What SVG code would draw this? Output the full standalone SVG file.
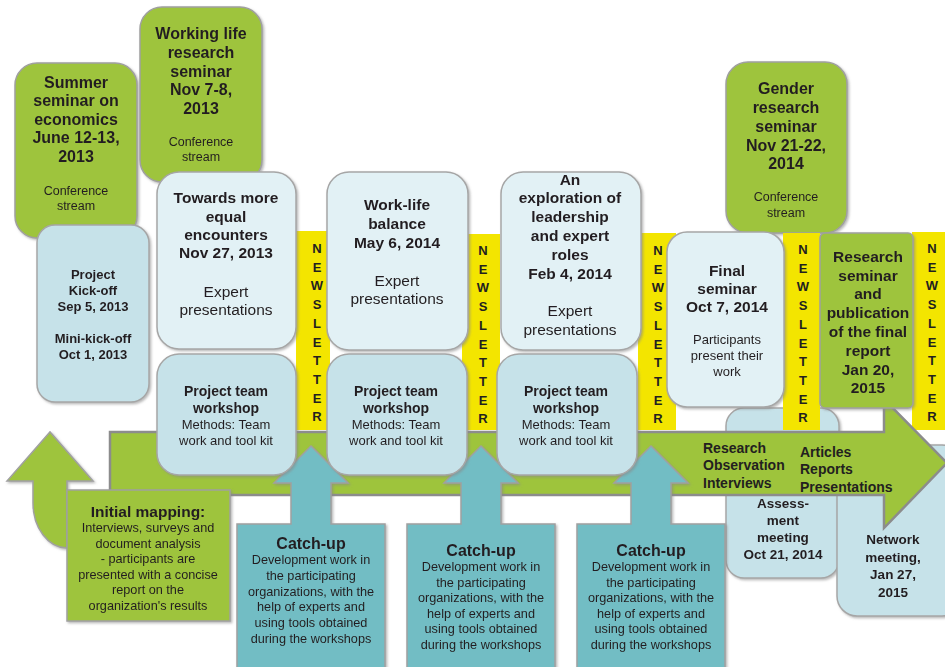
<svg xmlns="http://www.w3.org/2000/svg" width="945" height="667" viewBox="0 0 945 667">
<defs>
<style>
text{font-family:"Liberation Sans",Arial,sans-serif;fill:#231f20;text-anchor:middle}
.b{font-weight:bold}
.t16{font-size:16px}
.t155{font-size:15.5px}
.t14{font-size:14px}
.t135{font-size:13.5px}
.t13{font-size:13px}
.t127{font-size:12.7px}
.t125{font-size:12.5px}
.nl{font-size:13px;font-weight:bold}
.green{fill:#9ec43c;stroke:#a0a0a0;stroke-width:1.5}
.pale{fill:#e2f1f5;stroke:#a6a6a6;stroke-width:1.5}
.blue{fill:#c6e2e9;stroke:#a6a6a6;stroke-width:1.5}
.teal{fill:#72bdc4;stroke:#a0a0a0;stroke-width:1.5}
.yel{fill:#f3e500}
.bigarrow{fill:#9ec43c;stroke:#8c8c8c;stroke-width:2.5}
.left{text-anchor:start}
</style>
<filter id="sh" x="-10%" y="-10%" width="125%" height="125%">
<feDropShadow dx="1.5" dy="1.5" stdDeviation="1" flood-color="#888" flood-opacity="0.6"/>
</filter>
</defs>

<!-- conference stream boxes -->
<g id="summer-seminar" filter="url(#sh)">
<rect class="green" x="15" y="63" width="122" height="175" rx="22"/>
<text class="b t16"><tspan x="76" y="88">Summer</tspan><tspan x="76" y="106">seminar on</tspan><tspan x="76" y="125">economics</tspan><tspan x="76" y="143">June 12-13,</tspan><tspan x="76" y="162">2013</tspan></text>
<text class="t125"><tspan x="76" y="195">Conference</tspan><tspan x="76" y="210">stream</tspan></text>
</g>
<g id="working-life-seminar" filter="url(#sh)">
<rect class="green" x="140" y="7" width="122" height="175" rx="22"/>
<text class="b t16"><tspan x="201" y="39">Working life</tspan><tspan x="201" y="58">research</tspan><tspan x="201" y="77">seminar</tspan><tspan x="201" y="95">Nov 7-8,</tspan><tspan x="201" y="114">2013</tspan></text>
<text class="t125"><tspan x="201" y="146">Conference</tspan><tspan x="201" y="161">stream</tspan></text>
</g>
<g id="gender-seminar" filter="url(#sh)">
<rect class="green" x="726" y="62" width="121" height="171" rx="22"/>
<text class="b t16"><tspan x="786" y="94">Gender</tspan><tspan x="786" y="113">research</tspan><tspan x="786" y="132">seminar</tspan><tspan x="786" y="151">Nov 21-22,</tspan><tspan x="786" y="169">2014</tspan></text>
<text class="t125"><tspan x="786" y="201">Conference</tspan><tspan x="786" y="217">stream</tspan></text>
</g>

<!-- boxes behind the main arrow -->
<g id="assessment-meeting" filter="url(#sh)">
<rect class="blue" x="726" y="408" width="113" height="170" rx="18"/>
<text class="b t135"><tspan x="783" y="508">Assess-</tspan><tspan x="783" y="525">ment</tspan><tspan x="783" y="542">meeting</tspan><tspan x="783" y="559">Oct 21, 2014</tspan></text>
</g>
<g id="network-meeting" filter="url(#sh)">
<rect class="blue" x="837" y="445" width="125" height="171" rx="20"/>
<text class="b t135"><tspan x="893" y="544">Network</tspan><tspan x="893" y="562">meeting,</tspan><tspan x="893" y="579">Jan 27,</tspan><tspan x="893" y="597">2015</tspan></text>
</g>

<!-- newsletters -->
<g id="newsletter-1">
<rect class="yel" x="296" y="231" width="34" height="199"/>
<text class="nl"><tspan x="317" y="253">N</tspan><tspan x="317" dy="18.7">E</tspan><tspan x="317" dy="18.7">W</tspan><tspan x="317" dy="18.7">S</tspan><tspan x="317" dy="18.7">L</tspan><tspan x="317" dy="18.7">E</tspan><tspan x="317" dy="18.7">T</tspan><tspan x="317" dy="18.7">T</tspan><tspan x="317" dy="18.7">E</tspan><tspan x="317" dy="18.7">R</tspan></text>
</g>
<g id="newsletter-2">
<rect class="yel" x="462" y="234" width="38" height="196"/>
<text class="nl"><tspan x="483" y="255">N</tspan><tspan x="483" dy="18.7">E</tspan><tspan x="483" dy="18.7">W</tspan><tspan x="483" dy="18.7">S</tspan><tspan x="483" dy="18.7">L</tspan><tspan x="483" dy="18.7">E</tspan><tspan x="483" dy="18.7">T</tspan><tspan x="483" dy="18.7">T</tspan><tspan x="483" dy="18.7">E</tspan><tspan x="483" dy="18.7">R</tspan></text>
</g>
<g id="newsletter-3">
<rect class="yel" x="638" y="233" width="38" height="197"/>
<text class="nl"><tspan x="658" y="255">N</tspan><tspan x="658" dy="18.7">E</tspan><tspan x="658" dy="18.7">W</tspan><tspan x="658" dy="18.7">S</tspan><tspan x="658" dy="18.7">L</tspan><tspan x="658" dy="18.7">E</tspan><tspan x="658" dy="18.7">T</tspan><tspan x="658" dy="18.7">T</tspan><tspan x="658" dy="18.7">E</tspan><tspan x="658" dy="18.7">R</tspan></text>
</g>
<g id="newsletter-4">
<rect class="yel" x="783" y="233" width="37" height="197"/>
<text class="nl"><tspan x="803" y="254">N</tspan><tspan x="803" dy="18.7">E</tspan><tspan x="803" dy="18.7">W</tspan><tspan x="803" dy="18.7">S</tspan><tspan x="803" dy="18.7">L</tspan><tspan x="803" dy="18.7">E</tspan><tspan x="803" dy="18.7">T</tspan><tspan x="803" dy="18.7">T</tspan><tspan x="803" dy="18.7">E</tspan><tspan x="803" dy="18.7">R</tspan></text>
</g>
<g id="newsletter-5">
<rect class="yel" x="912" y="232" width="40" height="198"/>
<text class="nl"><tspan x="932" y="253">N</tspan><tspan x="932" dy="18.7">E</tspan><tspan x="932" dy="18.7">W</tspan><tspan x="932" dy="18.7">S</tspan><tspan x="932" dy="18.7">L</tspan><tspan x="932" dy="18.7">E</tspan><tspan x="932" dy="18.7">T</tspan><tspan x="932" dy="18.7">T</tspan><tspan x="932" dy="18.7">E</tspan><tspan x="932" dy="18.7">R</tspan></text>
</g>

<!-- arrows -->
<g id="connectors">
<path id="main-arrow" class="bigarrow" d="M110 432 L884 432 L884 399 L947 463 L884 528 L884 495 L110 495 Z"/>
<path id="start-arrow" class="green" filter="url(#sh)" d="M67 548 A34 45 0 0 1 33 503 L33 481 L7 481 L50 432 L93 481 L67 481 Z"/>
</g>

<g id="main-arrow-labels">
<text class="b t14 left"><tspan x="703" y="453">Research</tspan><tspan x="703" y="470">Observation</tspan><tspan x="703" y="488">Interviews</tspan></text>
<text class="b t14 left"><tspan x="800" y="457">Articles</tspan><tspan x="800" y="474">Reports</tspan><tspan x="800" y="492">Presentations</tspan></text>
</g>

<g id="initial-mapping" filter="url(#sh)">
<rect class="green" x="67" y="490" width="163" height="131"/>
<text class="b t155"><tspan x="148" y="517">Initial mapping:</tspan></text>
<text class="t127"><tspan x="148" y="532">Interviews, surveys and</tspan><tspan x="148" y="548">document analysis</tspan><tspan x="148" y="563">- participants are</tspan><tspan x="148" y="579">presented with a concise</tspan><tspan x="148" y="594">report on the</tspan><tspan x="148" y="610">organization's results</tspan></text>
</g>

<g id="project-kickoff" filter="url(#sh)">
<rect class="blue" x="37" y="225" width="112" height="177" rx="18"/>
<text class="b t13"><tspan x="93" y="279">Project</tspan><tspan x="93" y="295">Kick-off</tspan><tspan x="93" y="311">Sep 5, 2013</tspan><tspan x="93" y="343">Mini-kick-off</tspan><tspan x="93" y="359">Oct 1, 2013</tspan></text>
</g>

<g id="towards-equal" filter="url(#sh)">
<rect class="pale" x="157" y="172" width="139" height="177" rx="22"/>
<text class="b t155"><tspan x="226" y="203">Towards more</tspan><tspan x="226" y="222">equal</tspan><tspan x="226" y="240">encounters</tspan><tspan x="226" y="258">Nov 27, 2013</tspan></text>
<text class="t155"><tspan x="226" y="297">Expert</tspan><tspan x="226" y="315">presentations</tspan></text>
</g>
<g id="work-life" filter="url(#sh)">
<rect class="pale" x="327" y="172" width="141" height="178" rx="22"/>
<text class="b t155"><tspan x="397" y="210">Work-life</tspan><tspan x="397" y="229">balance</tspan><tspan x="397" y="248">May 6, 2014</tspan></text>
<text class="t155"><tspan x="397" y="286">Expert</tspan><tspan x="397" y="304">presentations</tspan></text>
</g>
<g id="leadership" filter="url(#sh)">
<rect class="pale" x="501" y="172" width="140" height="178" rx="22"/>
<text class="b t155"><tspan x="570" y="185">An</tspan><tspan x="570" y="203">exploration of</tspan><tspan x="570" y="222">leadership</tspan><tspan x="570" y="241">and expert</tspan><tspan x="570" y="260">roles</tspan><tspan x="570" y="279">Feb 4, 2014</tspan></text>
<text class="t155"><tspan x="570" y="316">Expert</tspan><tspan x="570" y="335">presentations</tspan></text>
</g>
<g id="final-seminar" filter="url(#sh)">
<rect class="pale" x="667" y="232" width="117" height="175" rx="20"/>
<text class="b t155"><tspan x="727" y="276">Final</tspan><tspan x="727" y="294">seminar</tspan><tspan x="727" y="312">Oct 7, 2014</tspan></text>
<text class="t13"><tspan x="727" y="344">Participants</tspan><tspan x="727" y="360">present their</tspan><tspan x="727" y="376">work</tspan></text>
</g>
<g id="research-seminar" filter="url(#sh)">
<rect class="green" x="820" y="233" width="93" height="175" rx="5"/>
<text class="b t155"><tspan x="868" y="262">Research</tspan><tspan x="868" y="281">seminar</tspan><tspan x="868" y="299">and</tspan><tspan x="868" y="318">publication</tspan><tspan x="868" y="337">of the final</tspan><tspan x="868" y="356">report</tspan><tspan x="868" y="375">Jan 20,</tspan><tspan x="868" y="393">2015</tspan></text>
</g>

<!-- catch-up arrows -->
<g id="catchup-1" filter="url(#sh)">
<path class="teal" d="M237 524 L291 524 L291 483 L274 483 L311 446 L348 483 L331 483 L331 524 L385 524 L385 672 L237 672 Z"/>
<text class="b t16"><tspan x="311" y="549">Catch-up</tspan></text>
<text class="t127"><tspan x="311" y="564">Development work in</tspan><tspan x="311" y="580">the participating</tspan><tspan x="311" y="596">organizations, with the</tspan><tspan x="311" y="611">help of experts and</tspan><tspan x="311" y="627">using tools obtained</tspan><tspan x="311" y="643">during the workshops</tspan></text>
</g>
<g id="catchup-2" filter="url(#sh)">
<path class="teal" d="M407 524 L461 524 L461 483 L444 483 L481 446 L518 483 L501 483 L501 524 L555 524 L555 672 L407 672 Z"/>
<text class="b t16"><tspan x="481" y="556">Catch-up</tspan></text>
<text class="t127"><tspan x="481" y="571">Development work in</tspan><tspan x="481" y="587">the participating</tspan><tspan x="481" y="602">organizations, with the</tspan><tspan x="481" y="618">help of experts and</tspan><tspan x="481" y="633">using tools obtained</tspan><tspan x="481" y="649">during the workshops</tspan></text>
</g>
<g id="catchup-3" filter="url(#sh)">
<path class="teal" d="M577 524 L631 524 L631 483 L614 483 L651 446 L688 483 L671 483 L671 524 L725 524 L725 672 L577 672 Z"/>
<text class="b t16"><tspan x="651" y="556">Catch-up</tspan></text>
<text class="t127"><tspan x="651" y="571">Development work in</tspan><tspan x="651" y="587">the participating</tspan><tspan x="651" y="602">organizations, with the</tspan><tspan x="651" y="618">help of experts and</tspan><tspan x="651" y="633">using tools obtained</tspan><tspan x="651" y="649">during the workshops</tspan></text>
</g>

<!-- workshops -->
<g id="workshop-1" filter="url(#sh)">
<rect class="blue" x="157" y="354" width="139" height="121" rx="22"/>
<text class="b t14"><tspan x="226" y="396">Project team</tspan><tspan x="226" y="413">workshop</tspan></text>
<text class="t13"><tspan x="226" y="429">Methods: Team</tspan><tspan x="226" y="445">work and tool kit</tspan></text>
</g>
<g id="workshop-2" filter="url(#sh)">
<rect class="blue" x="327" y="354" width="140" height="121" rx="22"/>
<text class="b t14"><tspan x="396" y="396">Project team</tspan><tspan x="396" y="413">workshop</tspan></text>
<text class="t13"><tspan x="396" y="429">Methods: Team</tspan><tspan x="396" y="445">work and tool kit</tspan></text>
</g>
<g id="workshop-3" filter="url(#sh)">
<rect class="blue" x="497" y="354" width="140" height="121" rx="22"/>
<text class="b t14"><tspan x="566" y="396">Project team</tspan><tspan x="566" y="413">workshop</tspan></text>
<text class="t13"><tspan x="566" y="429">Methods: Team</tspan><tspan x="566" y="445">work and tool kit</tspan></text>
</g>
</svg>
